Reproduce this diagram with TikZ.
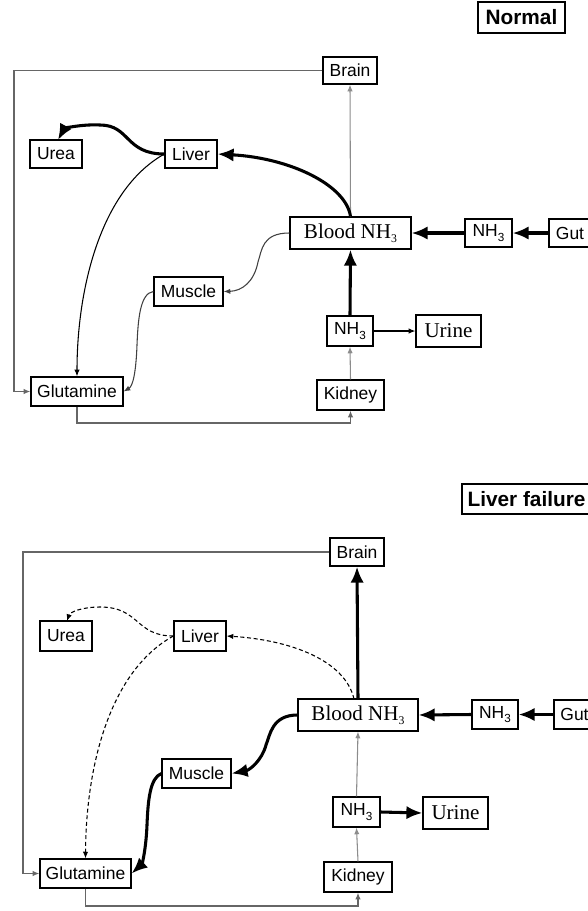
\documentclass[tikz,border=0pt]{standalone}
\usepackage{fontspec}
\setmainfont{Liberation Sans}
\newfontfamily\serifx{Liberation Serif}
\usetikzlibrary{arrows.meta}
\newcommand{\sbt}[1]{\raisebox{-0.45ex}{\fontsize{8.8}{9}\selectfont #1}}
\begin{document}
\begin{tikzpicture}[x=0.75pt,y=-0.75pt,
 box/.style={draw, line width=0.9pt, inner sep=0pt, font=\fontsize{13.1}{15}\selectfont},
 sz/.style 2 args={minimum width=#1*0.75pt, minimum height=#2*0.75pt},
 serifbox/.style={box, font=\serifx\fontsize{15.8}{18}\selectfont},
 titlebox/.style={box, font=\bfseries\fontsize{15.6}{18}\selectfont},
 thickarr/.style={line width=2.3pt, -{Latex[length=12pt,width=10pt]}},
 thinarr/.style={line width=0.8pt, -{Latex[length=5pt,width=4pt]}},
 grayarr/.style={thinarr, draw=black!45},
 darkarr/.style={thinarr, draw=black!75},
 frameline/.style={line width=0.9pt, draw=black!60, -{Latex[length=5pt,width=4pt]}},
 dasharr/.style={thinarr, dash pattern=on 3pt off 2pt},
]
\useasboundingbox (0,0) rectangle (588,911);

% ---------------- Normal ----------------
\node[titlebox, sz={87}{31}] (normal) at (521.5,17.5) {Normal};
\node[box, sz={54}{27}] (brain1) at (350,70.5) {Brain};
\node[box, sz={52}{28}] (urea1) at (56,154) {Urea};
\node[box, sz={52}{28}] (liver1) at (191,154) {Liver};
\node[serifbox, sz={121}{32}] (blood1) at (350.5,233) {Blood NH\sbt{3}};
\node[box, sz={47}{28}] (nhg1) at (488.5,233) {NH\sbt{3}};
\node[box, sz={42}{28}] (gut1) at (570,233) {Gut};
\node[box, sz={69}{29}] (muscle1) at (188.5,291.5) {Muscle};
\node[box, sz={46}{30}] (nhk1) at (350,331) {NH\sbt{3}};
\node[serifbox, sz={65}{32}] (urine1) at (448.5,331) {Urine};
\node[box, sz={67}{30}] (kid1) at (350.5,395) {Kidney};
\node[box, sz={92}{29}] (glut1) at (77,391.5) {Glutamine};

\coordinate (f1a) at (14,70.5);
\coordinate (f1b) at (14,391.5);
\coordinate (f1c) at (77,423);
\coordinate (f1d) at (350.5,423);

\draw[frameline] (brain1.west) -- (f1a) -- (f1b) -- (glut1.west);
\draw[frameline] (glut1.south) -- (f1c) -- (f1d) -- (kid1.south);

\draw[grayarr] (blood1.north) -- (brain1.south);
\draw[thickarr] (blood1.north) .. controls (346,185) and (290,158) .. (liver1.east);
\draw[thickarr] (liver1.west) .. controls (125,154) and (130,125) .. (100,125) .. controls (80,124) and (64,129) .. (58,140);
\draw[thinarr] (liver1.west) .. controls (100,190) and (77,290) .. (glut1.north);
\draw[darkarr] (blood1.west) .. controls (262,233) and (262,250) .. (258,262) .. controls (254,282) and (242,291) .. (muscle1.east);
\draw[darkarr] (muscle1.west) .. controls (140,293) and (138,320) .. (137,345) .. controls (136,372) and (133,386) .. (glut1.east);
\draw[thickarr] (nhg1.west) -- (blood1.east);
\draw[thickarr] (gut1.west) -- (nhg1.east);
\draw[thickarr] (nhk1.north) -- (blood1.south);
\draw[grayarr] (kid1.north) -- (nhk1.south);
\draw[thinarr] (nhk1.east) -- (urine1.west);

% ---------------- Liver failure ----------------
\node[titlebox, sz={129}{30}] (failure) at (526.5,499) {Liver failure};
\node[box, sz={54}{28}] (brain2) at (357,552) {Brain};
\node[box, sz={52}{30}] (urea2) at (66,636) {Urea};
\node[box, sz={52}{30}] (liver2) at (200,636) {Liver};
\node[serifbox, sz={120}{32}] (blood2) at (358,715) {Blood NH\sbt{3}};
\node[box, sz={46}{29}] (nhg2) at (495,714.5) {NH\sbt{3}};
\node[box, sz={41}{29}] (gut2) at (574.5,714.5) {Gut};
\node[box, sz={69}{29}] (muscle2) at (196.5,773.5) {Muscle};
\node[box, sz={47}{30}] (nhk2) at (356.5,812) {NH\sbt{3}};
\node[serifbox, sz={65}{32}] (urine2) at (455.5,813) {Urine};
\node[box, sz={68}{30}] (kid2) at (358,877) {Kidney};
\node[box, sz={91}{29}] (glut2) at (85.5,873.5) {Glutamine};

\coordinate (f2a) at (23,552);
\coordinate (f2b) at (23,873.5);
\coordinate (f2c) at (85.5,906);
\coordinate (f2d) at (358,906);
\coordinate (bl2) at (354,699);

\draw[frameline] (brain2.west) -- (f2a) -- (f2b) -- (glut2.west);
\draw[frameline] (glut2.south) -- (f2c) -- (f2d) -- (kid2.south);

\draw[thickarr] (blood2.north) -- (brain2.south);
\draw[dasharr] (bl2) .. controls (345,660) and (290,640) .. (liver2.east);
\draw[dasharr] (liver2.west) .. controls (135,636) and (140,607) .. (100,607) .. controls (82,607) and (70,612) .. (67,621);
\draw[dasharr] (liver2.west) .. controls (108,672) and (86,770) .. (glut2.north);
\draw[thickarr] (blood2.west) .. controls (272,715) and (270,735) .. (266,745) .. controls (262,760) and (250,770) .. (muscle2.east);
\draw[thickarr] (muscle2.west) .. controls (150,778) and (148,800) .. (147,825) .. controls (146,850) and (142,864) .. (glut2.east);
\draw[thickarr] (nhg2.west) -- (blood2.east);
\draw[thickarr] (gut2.west) -- (nhg2.east);
\draw[grayarr] (nhk2.north) -- (blood2.south);
\draw[grayarr] (kid2.north) -- (nhk2.south);
\draw[thickarr] (nhk2.east) -- (urine2.west);
\end{tikzpicture}
\end{document}
